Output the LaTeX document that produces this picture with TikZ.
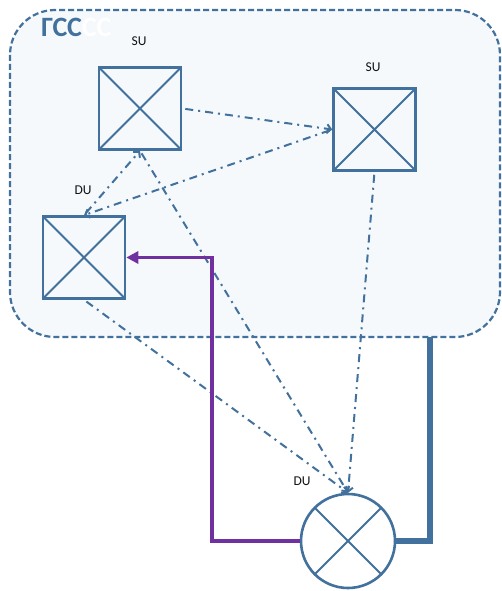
\documentclass[tikz,border=0pt]{standalone}
\usepackage{fontspec}
\setmainfont{Carlito}
\usetikzlibrary{arrows.meta,calc,positioning}
\definecolor{netBlue}{HTML}{41719C}
\definecolor{netZone}{HTML}{F5F9FC}
\definecolor{netPurple}{HTML}{7030A0}
\definecolor{netInk}{HTML}{111111}
\begin{document}
\begin{tikzpicture}[x=1pt,y=-1pt,line cap=butt,line join=miter]
\path[fill=white] (0,0) rectangle (502,591);
\tikzset{zone/.style={draw=netBlue,fill=netZone,line width=2.2pt,dash pattern=on 6pt off 3pt,rounded corners=45pt},ubox/.style={draw=netBlue,line width=2.6pt,minimum size=82pt,inner sep=0pt,path picture={\draw[netBlue,line width=2pt] (path picture bounding box.north west) -- (path picture bounding box.south east) (path picture bounding box.north east) -- (path picture bounding box.south west);}},ucirc/.style={circle,draw=netBlue,line width=2.6pt,minimum size=94pt,inner sep=0pt,path picture={\draw[netBlue,line width=2pt] ($(path picture bounding box.center)+(-33,-33)$) -- ($(path picture bounding box.center)+(33,33)$) ($(path picture bounding box.center)+(33,-33)$) -- ($(path picture bounding box.center)+(-33,33)$);}},link/.style={draw=netBlue,line width=2pt,dash pattern=on 8pt off 5pt on 2pt off 5pt,shorten <=3pt,-{Straight Barb[length=4pt,width=9pt]}},lbl/.style={font=\fontsize{13.5}{13.5}\selectfont,text=netInk}}
\path[zone] (10,10) rectangle (500,337);
\node[anchor=base west,inner sep=0pt,font=\bfseries\fontsize{28}{28}\selectfont] (title) at (41,37) {\textcolor{netBlue}{ГСС}\textcolor{white}{СС}};
\node[ubox] (su1) at (140,108.5) {}; \node[lbl] (su1l) at (139,41) {SU};
\node[ubox] (su2) at (374.5,129.5) {}; \node[lbl] (su2l) at (373,67) {SU};
\node[ubox] (du1) at (84,257.5) {}; \node[lbl] (du1l) at (83,190) {DU};
\node[ucirc] (du2) at (348,541) {}; \node[lbl] (du2l) at (302,481) {DU};
\draw[link] (su1.east) -- (su2.west); \draw[link] (su2.west) -- (du1.north); \draw[link] (du1.north) -- (su1.south);
\draw[link] (su1.south) -- (du2.north); \draw[link] (su2.south) -- (du2.north); \draw[link] (du1.south) -- (du2.north);
\coordinate (bend) at (212,541); \coordinate (tap) at (430,337);
\draw[netPurple,line width=3.2pt,-{Triangle[length=12pt,width=12pt]}] (du2.west) -- (bend) |- (du1.east);
\draw[netBlue,line width=6pt] (du2.east) -| (tap);
\end{tikzpicture}
\end{document}
